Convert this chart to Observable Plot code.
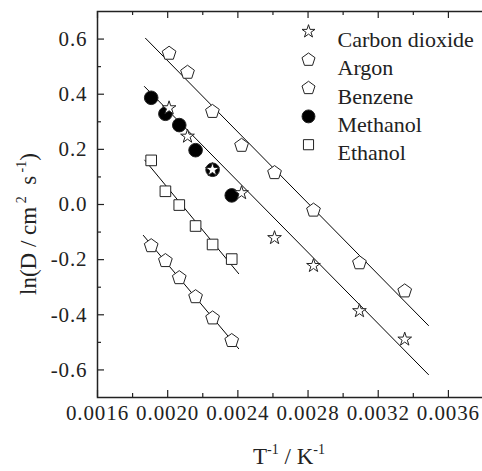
<!DOCTYPE html>
<html><head><meta charset="utf-8">
<script src="https://cdn.jsdelivr.net/npm/d3@7"></script>
<script src="https://cdn.jsdelivr.net/npm/@observablehq/plot@0.6"></script>
<style>
body{margin:0;background:#fff;overflow:hidden}
svg{display:block}
svg text{font-family:"Liberation Serif","Times New Roman",serif}
g[aria-label="x-axis tick label"] text{letter-spacing:0.9px}
g[aria-label="y-axis tick label"] text{letter-spacing:0.9px}
</style></head><body><div id="chart"></div>
<script>
// ---- data ----
const seriesNames = ["Carbon dioxide", "Argon", "Benzene", "Methanol", "Ethanol"];
const invT8 = [0.002008, 0.002113, 0.002255, 0.002421, 0.002609, 0.002831, 0.003093, 0.003351];
const invT6 = [0.001906, 0.001987, 0.002066, 0.002159, 0.002256, 0.002365];
const co2Y      = [0.350, 0.247, 0.126, 0.042, -0.121, -0.222, -0.386, -0.489];
const argonY    = [0.548, 0.479, 0.337, 0.214, 0.115, -0.021, -0.212, -0.314];
const benzeneY  = [-0.150, -0.204, -0.266, -0.335, -0.412, -0.494];
const methanolY = [0.387, 0.329, 0.288, 0.197, 0.126, 0.033];
const ethanolY  = [0.160, 0.048, -0.002, -0.078, -0.145, -0.198];
// fitted lines: start/end
const fitX1 = [0.001872, 0.001866, 0.001868, 0.001860];
const fitY1 = [0.604, 0.429, 0.162, -0.111];
const fitX2 = [0.003488, 0.003488, 0.002406, 0.002406];
const fitY2 = [-0.440, -0.618, -0.252, -0.524];
const xMajor = [0.0016, 0.0020, 0.0024, 0.0028, 0.0032, 0.0036];
const xMinor = [0.0018, 0.0022, 0.0026, 0.0030, 0.0034];
const yMajor = [-0.6, -0.4, -0.2, 0.0, 0.2, 0.4, 0.6];
const yMinor = [-0.5, -0.3, -0.1, 0.1, 0.3, 0.5];
const xTitle = ["T", "-1", " / K", "-1"];
const yTitle = ["ln(D / cm", " 2", "  s", " -1", ")"];

// ---- build ----
const pts = (xs, ys) => xs.map((x, i) => ({x, y: ys[i]}));
const fits = fitX1.map((x1, i) => ({x1, y1: fitY1[i], x2: fitX2[i], y2: fitY2[i]}));

const pentagon = {
  draw(context, size) {
    const r = Math.sqrt(size / Math.PI);
    for (let i = 0; i < 5; i++) {
      const a = -Math.PI / 2 + i * 2 * Math.PI / 5;
      const px = r * Math.cos(a), py = r * Math.sin(a);
      i ? context.lineTo(px, py) : context.moveTo(px, py);
    }
    context.closePath();
  }
};

const W = 482, H = 471, ML = 97, MT = 11, MR = -1, MB = 74;
const PW = W - ML - MR, PH = H - MT - MB;
const FONT = "'Liberation Serif', 'Times New Roman', serif";
const INK = "#222";
const sym = [
  {symbol: "star", r: 4.3, fill: "white"},
  {symbol: pentagon, r: 7.2, fill: "white"},
  {symbol: pentagon, r: 7.2, fill: "white"},
  {symbol: "circle", r: 6.8, fill: "black"},
  {symbol: "square", r: 6.0, fill: "white"}
];
const dotOpts = (k) => ({x: "x", y: "y", symbol: sym[k].symbol, r: sym[k].r, fill: sym[k].fill, stroke: INK, strokeWidth: 1});

const legendMarks = seriesNames.flatMap((name, i) => [
  Plot.dot([name], {frameAnchor: "top-left", dx: 211, dy: 20 + i * 28.3, symbol: sym[i].symbol, r: sym[i].r * 0.95, fill: sym[i].fill, stroke: INK, strokeWidth: 1}),
  Plot.text([name], {frameAnchor: "top-left", dx: 240, dy: 20 + i * 28.3, text: d => d, textAnchor: "start", fontSize: 22, fontFamily: FONT, fill: INK})
]);

const chart = Plot.plot({
  width: W, height: H,
  marginLeft: ML, marginTop: MT, marginRight: MR, marginBottom: MB,
  style: {fontFamily: FONT, background: "white", overflow: "visible"},
  x: {domain: [0.0016, 0.0038], label: null},
  y: {domain: [-0.7, 0.7], label: null},
  marks: [
    Plot.link(fits, {x1: "x1", y1: "y1", x2: "x2", y2: "y2", stroke: "black", strokeWidth: 1}),
    Plot.dot(pts(invT6, benzeneY), dotOpts(2)),
    Plot.dot(pts(invT6, ethanolY), dotOpts(4)),
    Plot.dot(pts(invT8, argonY), dotOpts(1)),
    Plot.dot(pts(invT6, methanolY), dotOpts(3)),
    Plot.dot(pts(invT8, co2Y), dotOpts(0)),
    // inward ticks
    Plot.tickX(xMajor, {x: d => d, insetTop: PH - 7, stroke: INK, strokeWidth: 1.2}),
    Plot.tickX(xMinor, {x: d => d, insetTop: PH - 4, stroke: INK, strokeWidth: 1.2}),
    Plot.tickX(xMajor, {x: d => d, insetBottom: PH - 7, stroke: INK, strokeWidth: 1.2}),
    Plot.tickX(xMinor, {x: d => d, insetBottom: PH - 4, stroke: INK, strokeWidth: 1.2}),
    Plot.tickY(yMajor, {y: d => d, insetRight: PW - 7, stroke: INK, strokeWidth: 1.2}),
    Plot.tickY(yMinor, {y: d => d, insetRight: PW - 4, stroke: INK, strokeWidth: 1.2}),
    Plot.frame({stroke: INK, strokeWidth: 1.5}),
    Plot.axisX(xMajor, {tickSize: 0, tickPadding: 8, tickFormat: d => d.toFixed(4), fontSize: 21, fontFamily: FONT, fill: INK, label: null}),
    Plot.axisY(yMajor, {tickSize: 0, tickPadding: 10, tickFormat: d => d.toFixed(1), fontSize: 21, fontFamily: FONT, fill: INK, label: null}),
    ...legendMarks
  ]
});
document.getElementById("chart").appendChild(chart);

// axis titles with superscripts
const svg = d3.select(chart);
function title(parts, x, y, rotate) {
  const t = svg.append("text")
    .attr("transform", `translate(${x},${y})` + (rotate ? " rotate(-90)" : ""))
    .attr("text-anchor", "middle")
    .attr("font-family", FONT).attr("font-size", 23).attr("fill", INK)
    .style("white-space", "pre");
  parts.forEach((p, i) => {
    const sup = i % 2 === 1;
    t.append("tspan").text(p)
      .attr("font-size", sup ? 14 : 23)
      .attr("dy", sup ? -10 : (i > 0 ? 10 : 0));
  });
}
title(xTitle, 289, 464, false);
title(yTitle, 36, 224, true);
</script></body></html>
